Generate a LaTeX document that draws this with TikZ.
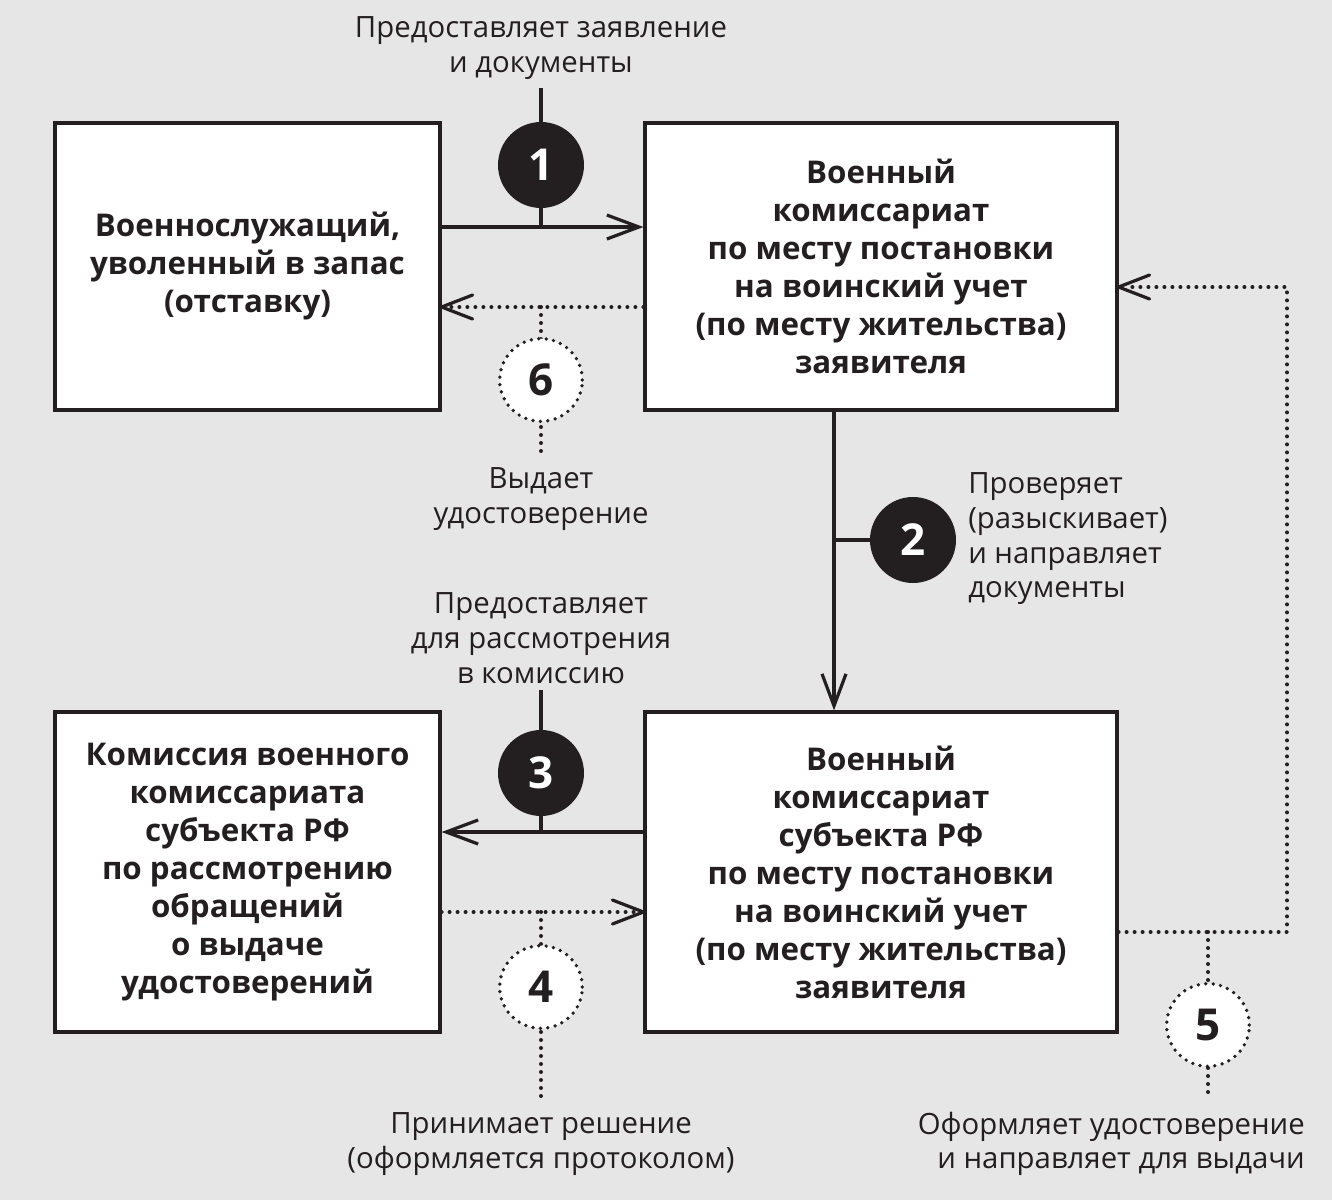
\documentclass[tikz,border=0pt]{standalone}
\usepackage{fontspec}
\setmainfont{Open Sans}
\usetikzlibrary{arrows.meta,calc}
\definecolor{bg}{HTML}{E6E6E6}
\definecolor{ink}{HTML}{231F20}
\begin{document}
\begin{tikzpicture}[x=0.75pt,y=-0.75pt,
  every node/.style={text=ink},
  box/.style={draw=ink,line width=2.4pt,fill=white,inner sep=0pt,align=center,
    font=\fontsize{23.5}{28.5}\selectfont\bfseries},
  lbl/.style={align=center,inner sep=0pt,font=\fontsize{22}{26}\selectfont},
  solidline/.style={draw=ink,line width=2.4pt},
  dotline/.style={draw=ink,line width=3pt,line cap=round,dash pattern=on 0pt off 6pt},
  arr/.style={-{Straight Barb[length=24pt,width=18pt,line width=2.4pt]}},
  numfull/.style={circle,fill=ink,minimum size=64.5pt,inner sep=0pt,text=white,
    font=\fontsize{33}{33}\selectfont\bfseries},
  numdot/.style={circle,fill=white,draw=ink,line width=2.8pt,line cap=round,
    dash pattern=on 0pt off 5.6pt,minimum size=62pt,inner sep=0pt,text=ink,
    font=\fontsize{33}{33}\selectfont\bfseries},
  barb/.style={line width=2.4pt,draw=ink,line cap=round,line join=round}
]
\fill[bg] (0,0) rectangle (1332,1200);
\useasboundingbox (0,0) rectangle (1332,1200);

% boxes
\node[box,minimum width=288.75pt,minimum height=215.25pt] (A) at (247.5,266.5)
  {Военнослужащий,\\уволенный в запас\\(отставку)};
\node[box,minimum width=354pt,minimum height=215.25pt] (B) at (881,266.5)
  {Военный\\комиссариат\\по месту постановки\\на воинский учет\\(по месту жительства)\\заявителя};
\node[box,minimum width=288.75pt,minimum height=240pt] (C) at (247.5,872)
  {Комиссия военного\\комиссариата\\субъекта РФ\\по рассмотрению\\обращений\\о выдаче\\удостоверений};
\node[box,minimum width=354pt,minimum height=240pt] (D) at (881,872)
  {Военный\\комиссариат\\субъекта РФ\\по месту постановки\\на воинский учет\\(по месту жительства)\\заявителя};

% coordinates
\coordinate (j1) at (541,227);
\coordinate (t1) at (541,88);
\coordinate (j6) at (541,307);
\coordinate (e6) at (541,455);
\coordinate (j2) at (834,540);
\coordinate (j3) at (541,832);
\coordinate (t3) at (541,690);
\coordinate (j4) at (541,912);
\coordinate (e4) at (541,1098);
\coordinate (r5) at (1287,932);
\coordinate (u5) at (1287,287);
\coordinate (j5) at (1208,932);
\coordinate (e5) at (1208,1098);

% step 1
\draw[solidline,arr] (A.east|-j1) -- (B.west|-j1);
\draw[solidline] (t1) -- (j1);
\node[numfull] (n1) at (541,165) {1};
\node[lbl] (l1) at (541,48) {Предоставляет заявление\\и документы};

% step 6
\draw[dotline] (B.west|-j6) -- ($(A.east|-j6)+(6,0)$);
\draw[dotline] (j6) -- (e6);
\node[numdot] (n6) at (541,380) {6};
\node[lbl] (l6) at (541,499) {Выдает\\удостоверение};

% step 2
\draw[solidline,arr] (B.south-|j2) -- (D.north-|j2);
\node[numfull] (n2) at (913,540) {2};
\draw[solidline] (j2) -- (n2.west);
\node[lbl,align=left,anchor=west] (l2) at (968,539) {Проверяет\\(разыскивает)\\и направляет\\документы};

% step 3
\draw[solidline,arr] (D.west|-j3) -- (C.east|-j3);
\draw[solidline] (t3) -- (j3);
\node[numfull] (n3) at (541,773) {3};
\node[lbl] (l3) at (541,638) {Предоставляет\\для рассмотрения\\в комиссию};

% step 4
\draw[dotline] (C.east|-j4) -- ($(D.west|-j4)+(-6,0)$);
\draw[dotline] (j4) -- (e4);
\node[numdot] (n4) at (541,987) {4};
\node[lbl] (l4) at (541,1144) {Принимает решение\\(оформляется протоколом)};

% step 5
\draw[dotline] (D.east|-r5) -- (r5) -- (u5) -- ($(B.east|-u5)+(6,0)$);
\draw[dotline] (j5) -- (e5);
\node[numdot] (n5) at (1208,1025) {5};
\node[lbl,align=right,anchor=east] (l5) at (1305,1144) {Оформляет удостоверение\\и направляет для выдачи};

% open arrowheads on dotted lines
\draw[barb] ($(A.east|-j6)+(31,-12)$) -- (A.east|-j6) -- ($(A.east|-j6)+(31,12)$);
\draw[barb] ($(D.west|-j4)+(-31,-12)$) -- (D.west|-j4) -- ($(D.west|-j4)+(-31,12)$);
\draw[barb] ($(B.east|-u5)+(31,-12)$) -- (B.east|-u5) -- ($(B.east|-u5)+(31,12)$);
\end{tikzpicture}
\end{document}
